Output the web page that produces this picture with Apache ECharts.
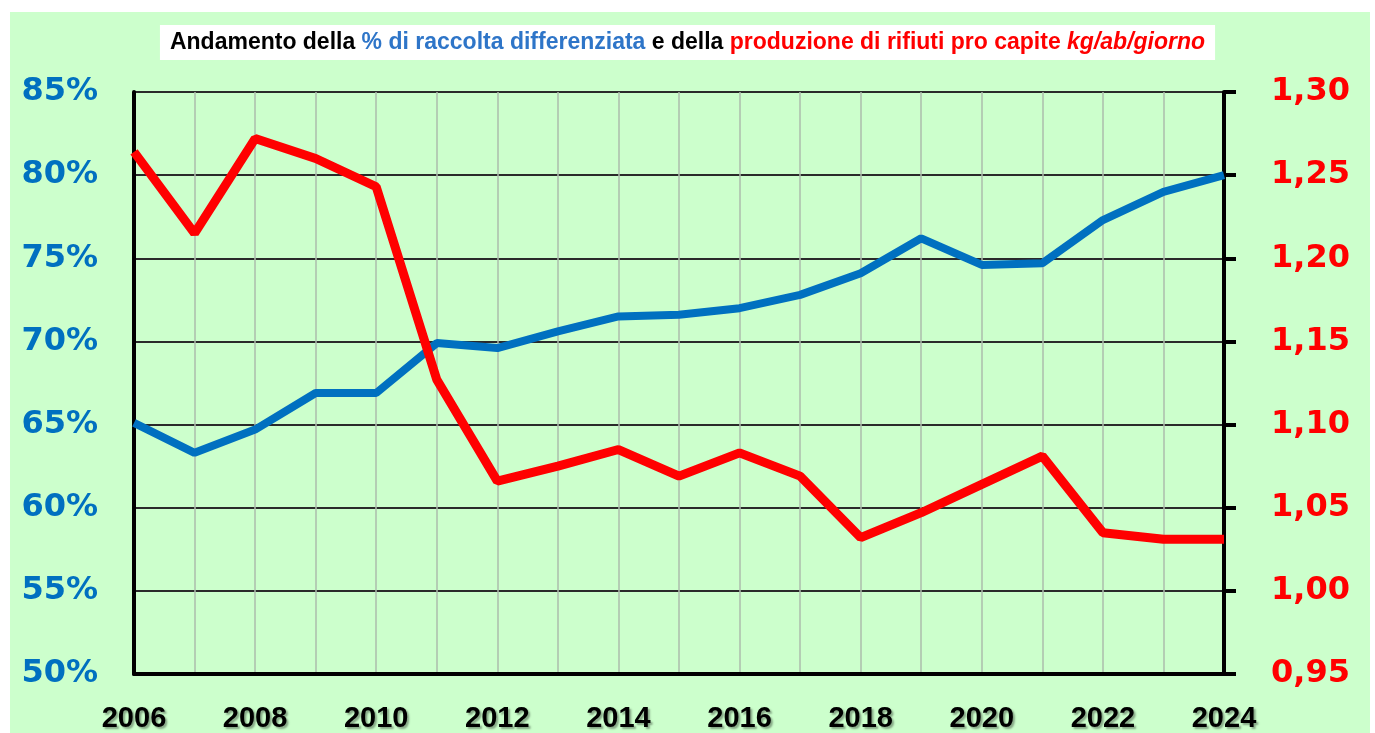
<!DOCTYPE html>
<html>
<head>
<meta charset="utf-8">
<script src="https://cdn.jsdelivr.net/npm/echarts@6/dist/echarts.min.js"></script>
<style>
  html, body { margin: 0; padding: 0; background: #fff; }
  #chart { width: 1375px; height: 733px; }
</style>
</head>
<body>
<div id="chart"></div>
<script>
  // anni
  var years = ['2006', '2007', '2008', '2009', '2010', '2011', '2012', '2013', '2014', '2015',
               '2016', '2017', '2018', '2019', '2020', '2021', '2022', '2023', '2024'];
  // % raccolta differenziata (asse sinistro)
  var raccolta = [65.1, 63.3, 64.7, 66.9, 66.9, 69.9, 69.6, 70.6, 71.5, 71.6,
                  72.0, 72.8, 74.1, 76.2, 74.6, 74.7, 77.3, 79.0, 80.0];
  // produzione rifiuti kg/ab/giorno (asse destro)
  var rifiuti = [1.264, 1.215, 1.272, 1.260, 1.243, 1.127, 1.066, 1.075, 1.085, 1.069,
                 1.083, 1.069, 1.032, 1.047, 1.064, 1.081, 1.035, 1.031, 1.031];

  var blu = '#0070c0';
  var rosso = '#ff0000';
  var fontTitolo = 'Liberation Sans, Arial, sans-serif';

  var myChart = echarts.init(document.getElementById('chart'));
  var option = {
    backgroundColor: '#ffffff',
    animation: false,
    graphic: [
      {
        type: 'rect',
        z: -10,
        silent: true,
        shape: { x: 10, y: 12, width: 1360, height: 721 },
        style: { fill: '#ccffcc' }
      }
    ],
    title: {
      left: 'center',
      top: 25,
      backgroundColor: '#ffffff',
      padding: [6, 10, 6, 10],
      text: '{k|Andamento della }{b|% di raccolta differenziata}{k| e della }{r|produzione di rifiuti pro capite }{ri|kg/ab/giorno}',
      textStyle: {
        rich: {
          k: { color: '#000', fontFamily: fontTitolo, fontWeight: 'bold', fontSize: 23 },
          b: { color: '#2e75c8', fontFamily: fontTitolo, fontWeight: 'bold', fontSize: 23 },
          r: { color: rosso, fontFamily: fontTitolo, fontWeight: 'bold', fontSize: 23 },
          ri: { color: rosso, fontFamily: fontTitolo, fontWeight: 'bold', fontStyle: 'italic', fontSize: 23 }
        }
      }
    },
    grid: {
      left: 134,
      right: 151,
      top: 92,
      bottom: 58
    },
    xAxis: {
      type: 'category',
      data: years,
      boundaryGap: false,
      axisLine: { lineStyle: { color: '#000', width: 4 } },
      axisTick: { show: false },
      axisLabel: {
        interval: 1,
        margin: 30,
        color: '#000',
        fontFamily: fontTitolo,
        fontWeight: 'bold',
        fontSize: 29,
        textShadowColor: 'rgba(0,0,0,0.35)',
        textShadowBlur: 2,
        textShadowOffsetX: 2,
        textShadowOffsetY: 2
      },
      splitLine: {
        show: true,
        interval: 0,
        lineStyle: { color: '#adbdad', width: 1.5 }
      }
    },
    yAxis: [
      {
        type: 'value',
        min: 50,
        max: 85,
        interval: 5,
        axisLine: { show: true, lineStyle: { color: '#000', width: 4 } },
        axisTick: { show: false },
        axisLabel: {
          margin: 36,
          color: blu,
          fontFamily: 'DejaVu Sans, sans-serif',
          fontWeight: 'bold',
          fontSize: 32,
          formatter: '{value}%'
        },
        splitLine: { lineStyle: { color: '#2a2a2a', width: 2 } }
      },
      {
        type: 'value',
        position: 'right',
        min: 0.95,
        max: 1.30,
        interval: 0.05,
        axisLine: { show: true, lineStyle: { color: '#000', width: 4 } },
        axisTick: { show: true, length: 12, lineStyle: { color: '#000', width: 4 } },
        axisLabel: {
          margin: 47,
          color: rosso,
          fontFamily: 'DejaVu Sans, sans-serif',
          fontWeight: 'bold',
          fontSize: 32,
          formatter: function (v) { return v.toFixed(2).replace('.', ','); }
        },
        splitLine: { show: false }
      }
    ],
    series: [
      {
        name: '% raccolta differenziata',
        type: 'line',
        yAxisIndex: 0,
        data: raccolta,
        symbol: 'none',
        z: 3,
        lineStyle: { color: blu, width: 8 }
      },
      {
        name: 'produzione rifiuti',
        type: 'line',
        yAxisIndex: 1,
        data: rifiuti,
        symbol: 'none',
        z: 4,
        lineStyle: { color: rosso, width: 9 }
      }
    ]
  };
  myChart.setOption(option);
</script>
</body>
</html>
